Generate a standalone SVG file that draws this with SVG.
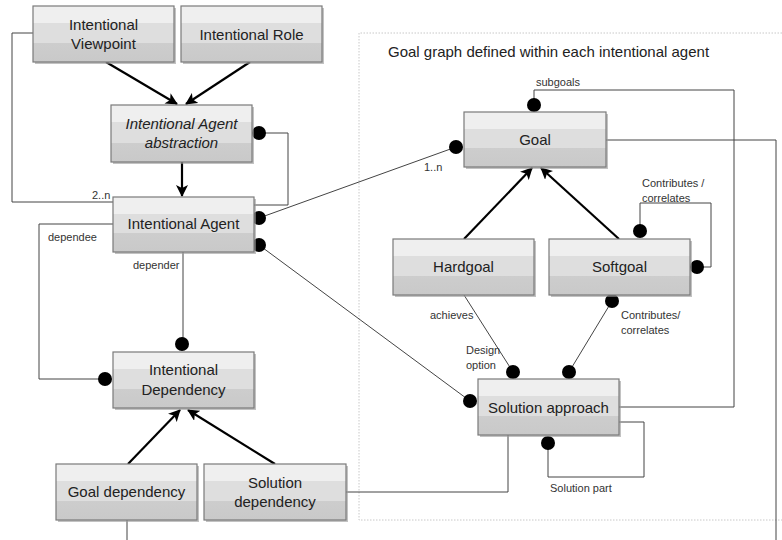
<svg xmlns="http://www.w3.org/2000/svg" width="782" height="540" viewBox="0 0 782 540">
<defs>
<linearGradient id="g" x1="0" y1="0" x2="0" y2="1">
<stop offset="0" stop-color="#efefef"/><stop offset="0.3" stop-color="#efefef"/>
<stop offset="0.3" stop-color="#dedede"/><stop offset="0.66" stop-color="#dedede"/>
<stop offset="0.66" stop-color="#cdcdcd"/><stop offset="1" stop-color="#c9c9c9"/>
</linearGradient>
<marker id="ar" markerUnits="userSpaceOnUse" markerWidth="12" markerHeight="12" refX="11" refY="6" orient="auto">
<path d="M0,0 L12,6 L0,12 L3,6 z" fill="#000"/>
</marker>
<style>
.box{fill:url(#g);stroke:#7a7a7a;stroke-width:1.2}
.sh{fill:#9a9a9a;opacity:0.6}
.t{font-family:"Liberation Sans",Arial,sans-serif;font-size:15px;fill:#222;text-anchor:middle}
.it{font-style:italic}
.l{font-family:"Liberation Sans",Arial,sans-serif;font-size:11px;fill:#333}
.c{fill:none;stroke:#444;stroke-width:1}
.a{fill:none;stroke:#000;stroke-width:2.2;marker-end:url(#ar)}
.d{fill:#000}
.frame{fill:none;stroke:#c8c8c8;stroke-width:1;stroke-dasharray:1.5 1.5}
</style>
</defs>
<rect width="782" height="540" fill="#fff"/>
<path class="frame" d="M782,33 H359 V520 H782"/>
<text class="t" x="388" y="57" style="text-anchor:start">Goal graph defined within each intentional agent</text>

<g id="connectors">
<line class="a" x1="106" y1="62" x2="177" y2="104"/>
<line class="a" x1="250" y1="62" x2="186" y2="104"/>
<line class="a" x1="182" y1="162" x2="182" y2="196"/>
<line class="a" x1="128" y1="464" x2="180" y2="410"/>
<line class="a" x1="275" y1="464" x2="188" y2="410"/>
<line class="a" x1="464" y1="239" x2="532" y2="168"/>
<line class="a" x1="619" y1="239" x2="541" y2="168"/>
<polyline class="c" points="33,33 12,33 12,202 113,202"/>
<polyline class="c" points="259,133 288,133 288,205 254,205"/>
<line class="c" x1="259" y1="218" x2="456" y2="147"/>
<line class="c" x1="259" y1="245" x2="470" y2="401"/>
<polyline class="c" points="113,224 39,224 39,379 106,379"/>
<line class="c" x1="183" y1="252" x2="183" y2="344"/>
<line class="c" x1="127" y1="520" x2="127" y2="540"/>
<polyline class="c" points="346,492 508,492 508,435"/>
<polyline class="c" points="640,231 640,203 711,203 711,267 697,267"/>
<line class="c" x1="464" y1="295" x2="513" y2="372"/>
<line class="c" x1="612" y1="301" x2="569" y2="372"/>
<polyline class="c" points="534,105 534,90 734,90 734,407 619,407"/>
<polyline class="c" points="606,140 776,140 776,540"/>
<polyline class="c" points="548,443 548,477 644,477 644,422 619,422"/>
<circle class="d" cx="259" cy="133" r="7"/>
<circle class="d" cx="259" cy="218" r="7"/>
<circle class="d" cx="259" cy="245" r="7"/>
<circle class="d" cx="456" cy="147" r="7"/>
<circle class="d" cx="470" cy="401" r="7"/>
<circle class="d" cx="105" cy="379" r="7"/>
<circle class="d" cx="182" cy="344" r="7"/>
<circle class="d" cx="640" cy="231" r="7"/>
<circle class="d" cx="697" cy="267" r="7"/>
<circle class="d" cx="513" cy="372" r="7"/>
<circle class="d" cx="569" cy="372" r="7"/>
<circle class="d" cx="612" cy="301" r="7"/>
<circle class="d" cx="534" cy="105" r="7"/>
<circle class="d" cx="548" cy="443" r="7"/>
<text class="l" x="92" y="199">2..n</text>
<text class="l" x="424" y="171">1..n</text>
<text class="l" x="48" y="241">dependee</text>
<text class="l" x="133" y="269">depender</text>
<text class="l" x="536" y="86">subgoals</text>
<text class="l" x="642" y="187">Contributes /</text>
<text class="l" x="642" y="202">correlates</text>
<text class="l" x="430" y="319">achieves</text>
<text class="l" x="466" y="354">Design</text>
<text class="l" x="466" y="369">option</text>
<text class="l" x="621" y="319">Contributes/</text>
<text class="l" x="621" y="334">correlates</text>
<text class="l" x="550" y="492">Solution part</text>
</g>

<g id="n-viewpoint"><rect class="sh" x="35" y="8" width="141" height="56"/><rect class="box" x="33" y="6" width="141" height="56"/><text class="t" x="103.5" y="30">Intentional</text><text class="t" x="103.5" y="49">Viewpoint</text></g>
<g id="n-role"><rect class="sh" x="183" y="8" width="141" height="56"/><rect class="box" x="181" y="6" width="141" height="56"/><text class="t" x="251.5" y="40">Intentional Role</text></g>
<g id="n-abstraction"><rect class="sh" x="113" y="107" width="141" height="57"/><rect class="box" x="111" y="105" width="141" height="57"/><text class="t it" x="181.5" y="129">Intentional Agent</text><text class="t it" x="181.5" y="148">abstraction</text></g>
<g id="n-agent"><rect class="sh" x="115" y="199" width="141" height="55"/><rect class="box" x="113" y="197" width="141" height="55"/><text class="t" x="183.5" y="229">Intentional Agent</text></g>
<g id="n-dependency"><rect class="sh" x="115" y="354" width="141" height="56"/><rect class="box" x="113" y="352" width="141" height="56"/><text class="t" x="183.5" y="375">Intentional</text><text class="t" x="183.5" y="395">Dependency</text></g>
<g id="n-goaldep"><rect class="sh" x="58" y="466" width="141" height="56"/><rect class="box" x="56" y="464" width="141" height="56"/><text class="t" x="126.5" y="497">Goal dependency</text></g>
<g id="n-soldep"><rect class="sh" x="206" y="466" width="142" height="56"/><rect class="box" x="204" y="464" width="142" height="56"/><text class="t" x="275" y="488">Solution</text><text class="t" x="275" y="507">dependency</text></g>
<g id="n-goal"><rect class="sh" x="466" y="114" width="142" height="55"/><rect class="box" x="464" y="112" width="142" height="55"/><text class="t" x="535" y="145">Goal</text></g>
<g id="n-hardgoal"><rect class="sh" x="395" y="241" width="141" height="56"/><rect class="box" x="393" y="239" width="141" height="56"/><text class="t" x="463.5" y="272">Hardgoal</text></g>
<g id="n-softgoal"><rect class="sh" x="551" y="241" width="141" height="56"/><rect class="box" x="549" y="239" width="141" height="56"/><text class="t" x="619.5" y="272">Softgoal</text></g>
<g id="n-solution"><rect class="sh" x="480" y="381" width="141" height="56"/><rect class="box" x="478" y="379" width="141" height="56"/><text class="t" x="548.5" y="413">Solution approach</text></g>
</svg>
